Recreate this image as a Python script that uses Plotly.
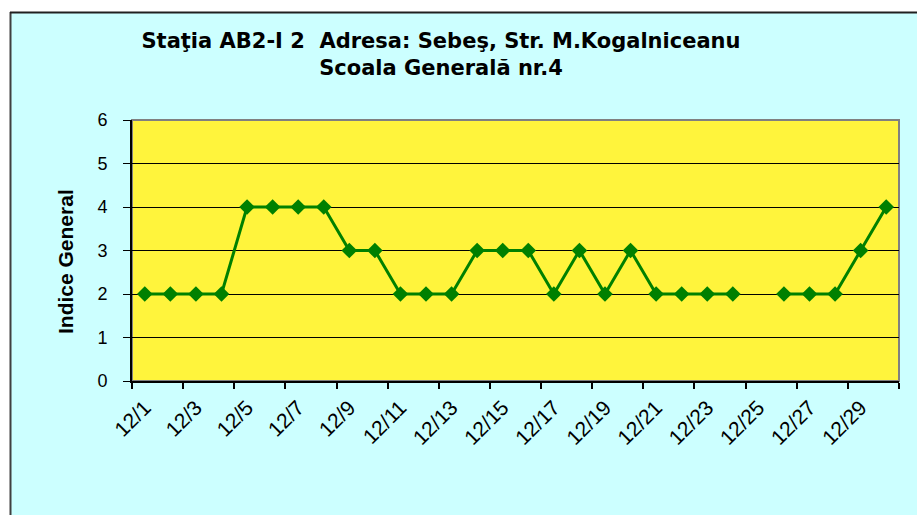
import plotly.graph_objects as go

days = list(range(1, 31))
categories = [f"12/{d}" for d in days]
values = [2, 2, 2, 2, 4, 4, 4, 4, 3, 3, 2, 2, 2, 3, 3, 3, 2, 3, 2, 3,
          2, 2, 2, 2, None, 2, 2, 2, 3, 4]
tick_days = days[::2]
tick_labels = categories[::2]

title_text = "Staţia AB2-I 2  Adresa: Sebeş, Str. M.Kogalniceanu<br>Scoala Generală nr.4"
y_title = "Indice General"

W, H = 917, 515
L, R, T, B = 132, 18, 120, 134
pw, ph = W - L - R, H - T - B

def px_x(p):
    return (p - L) / pw

def px_y(p):
    return (H - B - p) / ph

fig = go.Figure()
fig.add_trace(go.Scatter(
    x=days, y=values, mode="lines+markers",
    line=dict(color="#008000", width=3),
    marker=dict(symbol="diamond", size=12, color="#008000"),
    connectgaps=False, showlegend=False, hoverinfo="x+y",
))

font_family = "Liberation Sans, Arial, sans-serif"

shapes = [
    # white outer margins
    dict(type="rect", xref="paper", yref="paper", x0=px_x(-5), x1=px_x(10), y0=px_y(H + 5), y1=px_y(-5),
         fillcolor="white", line=dict(width=0), layer="below"),
    dict(type="rect", xref="paper", yref="paper", x0=px_x(-5), x1=px_x(W + 5), y0=px_y(12), y1=px_y(-5),
         fillcolor="white", line=dict(width=0), layer="below"),
    # chart border
    dict(type="line", xref="paper", yref="paper", x0=px_x(10.5), x1=px_x(10.5), y0=px_y(12), y1=px_y(H + 5),
         line=dict(color="#404040", width=2)),
    dict(type="line", xref="paper", yref="paper", x0=px_x(10), x1=px_x(W + 5), y0=px_y(12.5), y1=px_y(12.5),
         line=dict(color="#202020", width=2)),
    # plot area border (gray)
    dict(type="rect", xref="x domain", yref="y domain", x0=0, x1=1, y0=0, y1=1,
         line=dict(color="#808080", width=2), layer="below"),
]

annotations = [
    dict(text=y_title, textangle=-90, xref="paper", yref="paper",
         x=px_x(65), y=px_y(262), xanchor="center", yanchor="middle", showarrow=False,
         font=dict(family=font_family, size=21, color="black", weight="bold")),
]

fig.update_layout(
    width=W, height=H,
    margin=dict(l=L, r=R, t=T, b=B, pad=0),
    paper_bgcolor="#CCFFFF",
    plot_bgcolor="#FFF43C",
    font=dict(family=font_family, size=18, color="black"),
    title=dict(text=title_text, x=441 / W, xanchor="center", xref="container",
               y=1 - 48 / H, yanchor="top", yref="container",
               font=dict(family="DejaVu Sans, sans-serif", size=21, color="black", weight="bold")),
    shapes=shapes,
    annotations=annotations,
    xaxis=dict(
        range=[0.5, 30.5], tickmode="array", tickvals=tick_days, ticktext=tick_labels,
        tickangle=-45, ticks="", showgrid=False, zeroline=False,
        showline=True, linecolor="black", linewidth=2,
        tickfont=dict(size=21),
        ticklabelstandoff=4,
        minor=dict(tick0=0.5, dtick=2, ticks="outside", ticklen=6, tickcolor="black",
                   tickwidth=2, showgrid=False),
    ),
    yaxis=dict(
        range=[0, 6], tickmode="linear", tick0=0, dtick=1,
        ticks="outside", ticklen=7, tickcolor="black", tickwidth=1,
        showgrid=True, gridcolor="black", gridwidth=1, zeroline=False,
        showline=True, linecolor="black", linewidth=2,
        tickfont=dict(size=18),
        ticklabelstandoff=12,
    ),
)

fig.write_html("out.html", config={"displayModeBar": False},
               post_script="document.body.style.margin='0px';")
